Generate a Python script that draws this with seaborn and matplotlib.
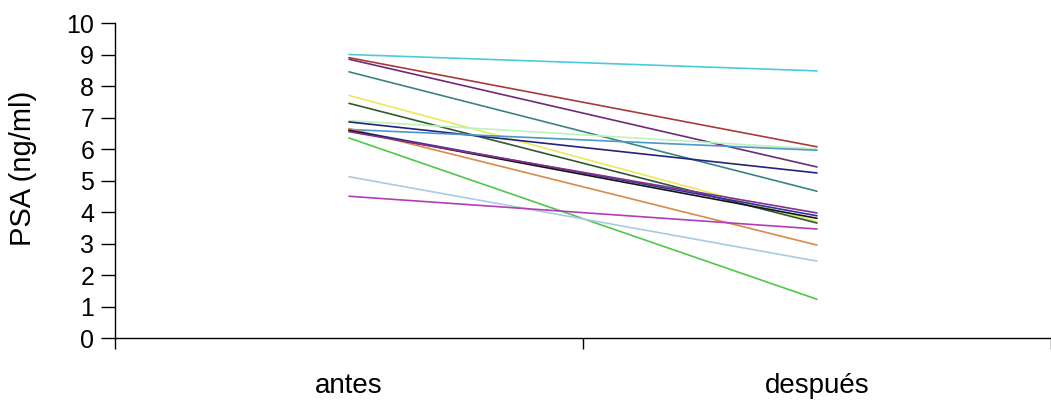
import pandas as pd
import matplotlib
matplotlib.use("Agg")
import matplotlib.pyplot as plt
import seaborn as sns

sns.set_style("white")
plt.rcParams['font.family'] = ['Liberation Sans', 'DejaVu Sans']

momentos = ['antes', 'después']
pacientes = ['P01', 'P02', 'P03', 'P04', 'P05', 'P06', 'P07', 'P08',
             'P09', 'P10', 'P11', 'P12', 'P13', 'P14', 'P15', 'P16']
psa_antes = [9.00, 8.90, 8.85, 8.45, 7.70, 7.45, 6.90, 6.86,
             6.62, 6.65, 6.60, 6.58, 6.55, 6.35, 5.12, 4.50]
psa_despues = [8.48, 6.07, 5.43, 4.66, 3.70, 3.65, 6.00, 5.24,
               5.96, 2.95, 3.88, 3.80, 3.97, 1.23, 2.44, 3.46]
colores = ['#48CCDA', '#A83A3A', '#6E2A78', '#3A8484', '#EBE860', '#2E5A32',
           '#BDF2BD', '#23237E', '#4E97C8', '#D98A4A', '#2A36A8', '#141414',
           '#8A2E8A', '#4CC84C', '#A8CCE2', '#B43CB8']

df = pd.DataFrame({
    'momento': momentos * len(pacientes),
    'paciente': [p for p in pacientes for _ in momentos],
    'PSA': [v for a, d in zip(psa_antes, psa_despues) for v in (a, d)],
})

fig = plt.figure(figsize=(10.51, 4.05), dpi=100)
ax = fig.add_axes([0.1094, 0.1654, 0.8906, 0.7778])

sns.lineplot(data=df, x='momento', y='PSA', hue='paciente', palette=colores,
             estimator=None, sort=False, linewidth=1.2, legend=False, ax=ax)

ax.set_xlim(-0.5, 1.5)
ax.set_ylim(0, 10)
ax.set_yticks(range(0, 11))
ax.set_xticks([0, 1])
ax.set_xticklabels(momentos)
ax.set_xticks([-0.5, 0.5, 1.5], minor=True)
ax.tick_params(axis='x', which='major', bottom=False, pad=22, labelsize=20,
               labelcolor='black')
ax.tick_params(axis='x', which='minor', bottom=True, length=8, width=1,
               direction='out', color='black')
ax.tick_params(axis='y', left=True, length=10, width=1, direction='out',
               color='black', labelsize=18, pad=5, labelcolor='black')
ax.set_xlabel('')
ax.set_ylabel('PSA (ng/ml)', fontsize=21, color='black')
ax.yaxis.set_label_coords(-0.083, 0.54)

for s in ['top', 'right']:
    ax.spines[s].set_visible(False)
for s in ['left', 'bottom']:
    ax.spines[s].set_color('black')
    ax.spines[s].set_linewidth(1)

fig.savefig('out.png', dpi=100)
